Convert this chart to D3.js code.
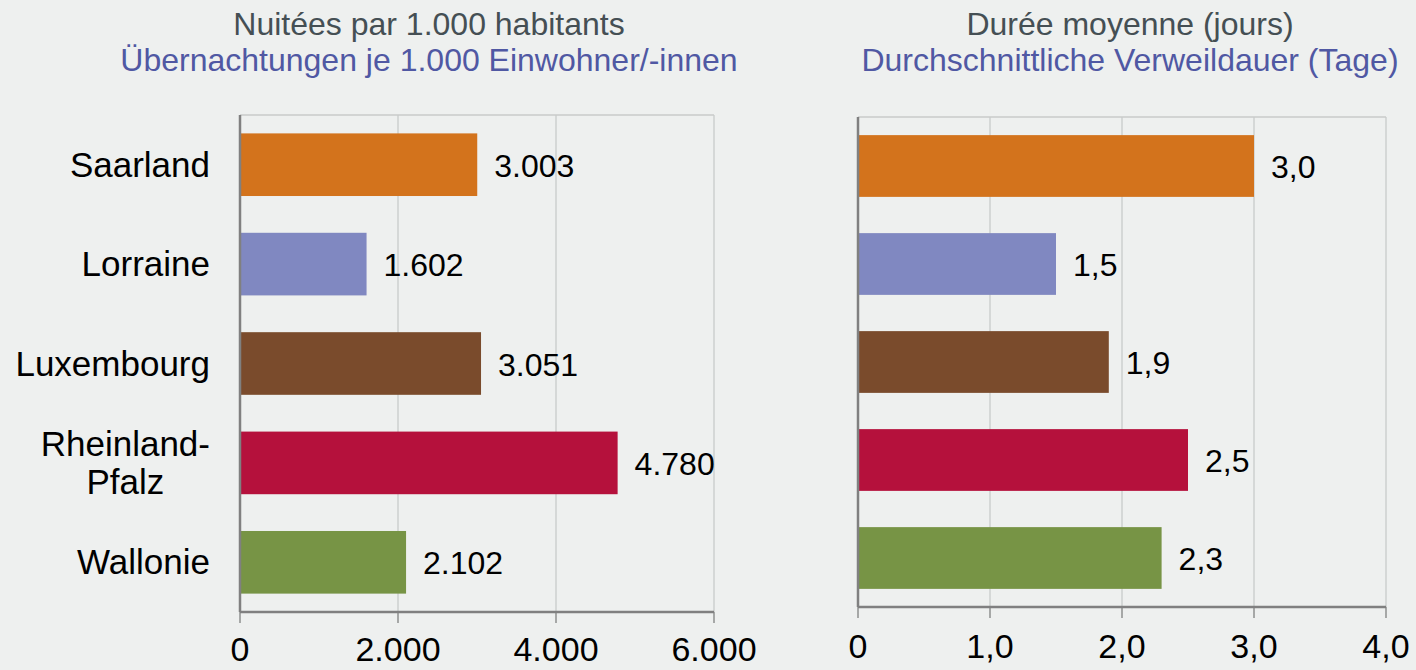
<!DOCTYPE html>
<html>
<head>
<meta charset="utf-8">
<script src="https://cdn.jsdelivr.net/npm/d3@7"></script>
<style>
  html, body { margin: 0; padding: 0; background: #eef0ef; }
  svg { display: block; font-family: "Liberation Sans", Arial, sans-serif; }
</style>
</head>
<body>
<div id="chart"></div>
<script>
// data
const regions = ["Saarland", "Lorraine", "Luxembourg", "Rheinland-\nPfalz", "Wallonie"];
const colors = ["#d3731c", "#8088c1", "#7a4b2c", "#b5113c", "#779445"];
const nights = [3003, 1602, 3051, 4780, 2102];
const stay = [3.0, 1.5, 1.9, 2.5, 2.3];
const nightsTicks = [0, 2000, 4000, 6000];
const stayTicks = [0, 1, 2, 3, 4];

const deFmt = d3.formatLocale({ decimal: ",", thousands: ".", grouping: [3], currency: ["", "€"] });
const fmtInt = deFmt.format(",d");
const fmtDec = deFmt.format(",.1f");

const W = 1416, H = 670;
const svg = d3.select("#chart").append("svg")
  .attr("width", W)
  .attr("height", H);

svg.append("rect").attr("width", W).attr("height", H).attr("fill", "#eef0ef");

function drawPanel({ values, ticks, domain, x0, x1, y0, y1, fmtVal, fmtTick, titles, titleX, showCats }) {
  const x = d3.scaleLinear().domain(domain).range([x0, x1]);
  const y = d3.scaleBand().domain(regions).range([y0, y1]).paddingInner(0.37).paddingOuter(0.185);

  const g = svg.append("g");

  // titles
  g.append("text")
    .attr("x", titleX).attr("y", 35)
    .attr("text-anchor", "middle")
    .attr("font-size", 32)
    .attr("fill", "#454f54")
    .text(titles[0]);
  g.append("text")
    .attr("x", titleX).attr("y", 71)
    .attr("text-anchor", "middle")
    .attr("font-size", 32)
    .attr("fill", "#5058a3")
    .text(titles[1]);

  // gridlines
  g.selectAll(".grid")
    .data(ticks.slice(1))
    .enter()
    .append("line")
    .attr("x1", d => x(d)).attr("x2", d => x(d))
    .attr("y1", y0).attr("y2", y1)
    .attr("stroke", "#cdd0cf")
    .attr("stroke-width", 1.5);

  // top border
  g.append("line")
    .attr("x1", x0).attr("x2", x1)
    .attr("y1", y0).attr("y2", y0)
    .attr("stroke", "#c8cbca")
    .attr("stroke-width", 1.5);

  // bars
  g.selectAll(".bar")
    .data(values)
    .enter()
    .append("rect")
    .attr("x", x(0))
    .attr("y", (d, i) => y(regions[i]))
    .attr("width", d => x(d) - x(0))
    .attr("height", y.bandwidth())
    .attr("fill", (d, i) => colors[i]);

  // value labels
  g.selectAll(".val")
    .data(values)
    .enter()
    .append("text")
    .attr("x", d => x(d) + 17)
    .attr("y", (d, i) => y(regions[i]) + y.bandwidth() / 2 + 12)
    .attr("font-size", 32)
    .attr("fill", "#000")
    .text(d => fmtVal(d));

  // tick marks below the axis
  g.selectAll(".tick")
    .data(ticks)
    .enter()
    .append("line")
    .attr("x1", d => x(d)).attr("x2", d => x(d))
    .attr("y1", y1).attr("y2", y1 + 11)
    .attr("stroke", "#a6a8a7")
    .attr("stroke-width", 2);

  // axes lines
  g.append("line")
    .attr("x1", x0).attr("x2", x0)
    .attr("y1", y0).attr("y2", y1)
    .attr("stroke", "#808080")
    .attr("stroke-width", 2.5);
  g.append("line")
    .attr("x1", x0).attr("x2", x1)
    .attr("y1", y1).attr("y2", y1)
    .attr("stroke", "#808080")
    .attr("stroke-width", 2.5);

  // tick labels
  g.selectAll(".tl")
    .data(ticks)
    .enter()
    .append("text")
    .attr("x", d => x(d))
    .attr("y", Math.min(y1 + 51, 661))
    .attr("text-anchor", "middle")
    .attr("font-size", 34)
    .attr("fill", "#000")
    .text(d => fmtTick(d));

  if (showCats) {
    regions.forEach(r => {
      const lines = r.split("\n");
      const cy = y(r) + y.bandwidth() / 2;
      const lh = 38;
      const t = g.append("text")
        .attr("font-size", 35)
        .attr("fill", "#000");
      const spans = lines.map((l, k) => t.append("tspan")
        .attr("y", cy + 12 + (k - (lines.length - 1) / 2) * lh)
        .text(l));
      const widths = spans.map(s => s.node().getComputedTextLength());
      const maxW = d3.max(widths);
      const right = x0 - 30;
      spans.forEach(s => s.attr("x", right - maxW / 2).attr("text-anchor", "middle"));
    });
  }
}

drawPanel({
  values: nights, ticks: nightsTicks, domain: [0, 6000],
  x0: 240, x1: 714, y0: 115, y1: 612,
  fmtVal: fmtInt, fmtTick: fmtInt,
  titles: ["Nuitées par 1.000 habitants", "Übernachtungen je 1.000 Einwohner/-innen"],
  titleX: 429, showCats: true
});

drawPanel({
  values: stay, ticks: stayTicks, domain: [0, 4],
  x0: 858, x1: 1386, y0: 117, y1: 607,
  fmtVal: fmtDec, fmtTick: d => d === 0 ? "0" : fmtDec(d),
  titles: ["Durée moyenne (jours)", "Durchschnittliche Verweildauer (Tage)"],
  titleX: 1130, showCats: false
});
</script>
</body>
</html>
